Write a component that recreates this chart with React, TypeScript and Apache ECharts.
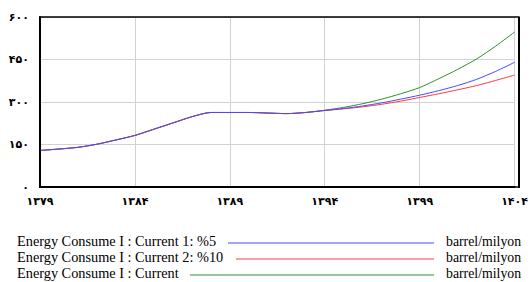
import React, { useEffect, useRef } from "react";
import * as echarts from "echarts";

const years = [1379,1380,1381,1382,1383,1384,1385,1386,1387,1388,1389,1390,1391,1392,1393,1394,1395,1396,1397,1398,1399,1400,1401,1402,1403,1404];
const shared = [129,134,140,151,166,182,204,226,248,263,263,263,261,259,263];
const blueTail = [270,277,286,297,310,324,340,358,380,408,440];
const redTail = [270,276,283,292,303,316,329,343,358,376,395];
const greenTail = [271,281,294,310,329,351,382,415,452,497,547];
const yTicks = [0,150,300,450,600];
const legendNames = ["Energy Consume I : Current 1: %5", "Energy Consume I : Current 2: %10", "Energy Consume I : Current"];
const unit = "barrel/milyon";

const faDigits = "۰۱۲۳۴۵۶۷۸۹";
const toFa = (v: number) => String(v).replace(/\d/g, (d) => faDigits[+d]);

const blue = shared.concat(blueTail);
const red = shared.concat(redTail);
const green = shared.concat(greenTail);
const pairs = (vals: number[]) => years.map((y, i) => [y, vals[i]]);

const colors = { blue: "#4848ff", red: "#ff3a3a", green: "#2e8f2e" };

export default function App() {
  const ref = useRef<HTMLDivElement>(null);
  useEffect(() => {
    if (!ref.current) return;
    const chart = echarts.init(ref.current, null, { renderer: "svg" });
    const legendRows = [
      { name: legendNames[0], color: colors.blue, x1: 228, y: 243 },
      { name: legendNames[1], color: colors.red, x1: 236, y: 259 },
      { name: legendNames[2], color: colors.green, x1: 190, y: 275 },
    ];
    const graphics: any[] = [];
    legendRows.forEach((r) => {
      graphics.push({
        type: "text", left: 17, top: r.y - 9,
        style: { text: r.name, fontFamily: "Liberation Serif", fontSize: 14.3, fill: "#000" },
      });
      graphics.push({
        type: "line", shape: { x1: r.x1, y1: r.y, x2: 434, y2: r.y },
        style: { stroke: r.color, lineWidth: 1 },
      });
      graphics.push({
        type: "text", left: 446, top: r.y - 9,
        style: { text: unit, fontFamily: "Liberation Serif", fontSize: 13.8, fill: "#000" },
      });
    });
    graphics.push({
      type: "rect", shape: { x: 40, y: 17, width: 479, height: 170 },
      style: { fill: "none", stroke: "#000", lineWidth: 1.3 }, z: 10,
    });
    graphics.push({
      type: "line", shape: { x1: 519, y1: 17, x2: 519, y2: 188 },
      style: { stroke: "#000", lineWidth: 2 }, z: 10,
    });
    chart.setOption({
      animation: false,
      grid: { left: 40, right: 12, top: 17, bottom: 95, containLabel: false },
      xAxis: {
        type: "value", min: 1379, max: 1404, interval: 5,
        axisLine: { show: true, onZero: false, lineStyle: { color: "#000", width: 2 } },
        axisTick: { show: false },
        splitLine: { show: true, lineStyle: { color: "#d2d2d2", width: 1 } },
        axisLabel: {
          formatter: (v: number) => toFa(v), color: "#000", fontSize: 11, fontWeight: "bold",
          fontFamily: "DejaVu Sans", margin: 9,
        },
      },
      yAxis: {
        type: "value", min: 0, max: 600, interval: 150,
        axisLine: { show: true, lineStyle: { color: "#000", width: 2 } },
        axisTick: { show: false },
        splitLine: { show: true, lineStyle: { color: "#d2d2d2", width: 1 } },
        axisLabel: {
          formatter: (v: number) => (yTicks.includes(v) ? toFa(v) : ""), color: "#000",
          fontSize: 11, fontWeight: "bold", fontFamily: "DejaVu Sans", margin: 11,
        },
      },
      series: [
        { type: "line", data: pairs(green), showSymbol: false, smooth: 0.25, lineStyle: { color: colors.green, width: 1 } },
        { type: "line", data: pairs(red), showSymbol: false, smooth: 0.25, lineStyle: { color: colors.red, width: 1 } },
        { type: "line", data: pairs(blue), showSymbol: false, smooth: 0.25, lineStyle: { color: colors.blue, width: 1 } },
      ],
      graphic: graphics,
    });
    return () => chart.dispose();
  }, []);
  return <div ref={ref} style={{ width: 531, height: 282, position: "absolute", left: 0, top: 0 }} />;
}
